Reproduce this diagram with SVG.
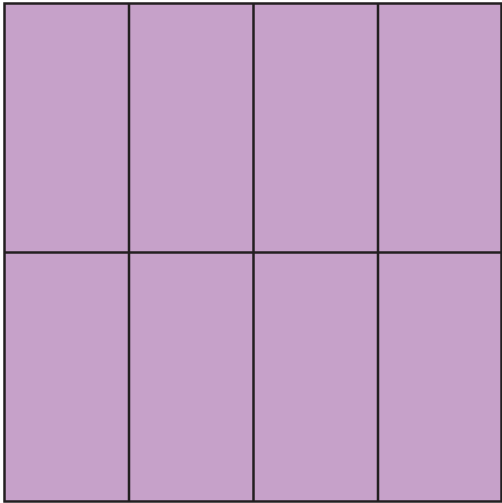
<svg xmlns="http://www.w3.org/2000/svg" width="502" height="503" viewBox="0 0 502 503">
<style>.c{fill:#c6a1c9;stroke:#231f20;stroke-width:2.5}.l{stroke:#231f20;stroke-width:2.5}</style>
<rect width="502" height="503" fill="#fff"/>
<g id="grid">
<rect class="c" x="4.5" y="3.5" width="497" height="498"/>
</g>
<g id="lines">
<line class="l" x1="129" y1="3.5" x2="129" y2="501.5"/>
<line class="l" x1="253.5" y1="3.5" x2="253.5" y2="501.5"/>
<line class="l" x1="378" y1="3.5" x2="378" y2="501.5"/>
<line class="l" x1="4.5" y1="252.5" x2="501.5" y2="252.5"/>
</g>
</svg>
